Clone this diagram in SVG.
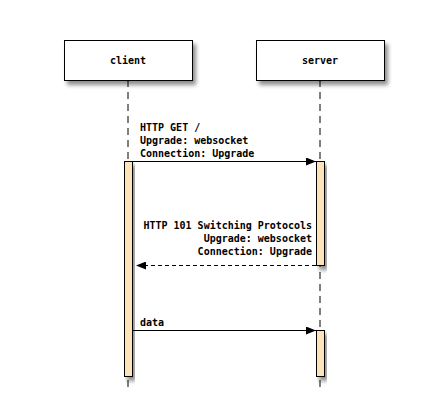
<svg xmlns="http://www.w3.org/2000/svg" width="448" height="404" viewBox="0 0 448 404">
<defs>
<filter id="sh" x="-20%" y="-20%" width="150%" height="160%">
<feGaussianBlur in="SourceAlpha" stdDeviation="2"/>
<feOffset dx="3" dy="4" result="b"/>
<feComponentTransfer><feFuncA type="linear" slope="0.45"/></feComponentTransfer>
<feMerge><feMergeNode/><feMergeNode in="SourceGraphic"/></feMerge>
</filter>
<marker id="ah" viewBox="0 0 10 8" refX="10" refY="4" markerWidth="10" markerHeight="8" markerUnits="userSpaceOnUse" orient="auto">
<path d="M0,0 L10,4 L0,8 Z" fill="#000"/>
</marker>
</defs>
<style>
.box{fill:#fff;stroke:#000;stroke-width:1}
.act{fill:#fde4b8;stroke:#000;stroke-width:1}
.life{stroke:#000;stroke-width:1;stroke-dasharray:7 5;fill:none}
.msg{stroke:#000;stroke-width:1;fill:none}
.ret{stroke-dasharray:4 3}
text{font-family:"DejaVu Sans Mono","Liberation Mono",monospace;font-size:10px;font-weight:bold;fill:#000}
</style>
<rect width="448" height="404" fill="#fff"/>
<g id="lifelines">
<line class="life" x1="128" y1="80" x2="128" y2="388"/>
<line class="life" x1="320" y1="80" x2="320" y2="388"/>
</g>
<g id="client">
<rect class="box" x="64.5" y="40.5" width="128" height="40" filter="url(#sh)"/>
<text x="128" y="63.5" text-anchor="middle">client</text>
</g>
<g id="server">
<rect class="box" x="256.5" y="40.5" width="128" height="40" filter="url(#sh)"/>
<text x="320" y="63.5" text-anchor="middle">server</text>
</g>
<g id="activations">
<rect class="act" x="124.5" y="161.5" width="8" height="215" filter="url(#sh)"/>
<rect class="act" x="316.5" y="161.5" width="8" height="104" filter="url(#sh)"/>
<rect class="act" x="316.5" y="330.5" width="8" height="46" filter="url(#sh)"/>
</g>
<g id="connectors">
<line class="msg" x1="133" y1="161.5" x2="316" y2="161.5" marker-end="url(#ah)"/>
<line class="msg ret" x1="316" y1="265.5" x2="136" y2="265.5" marker-end="url(#ah)"/>
<line class="msg" x1="133" y1="330.5" x2="316" y2="330.5" marker-end="url(#ah)"/>
</g>
<g id="labels">
<text x="140" y="131">HTTP GET /</text>
<text x="140" y="144">Upgrade: websocket</text>
<text x="140" y="157">Connection: Upgrade</text>
<text x="312" y="229" text-anchor="end">HTTP 101 Switching Protocols</text>
<text x="312" y="242" text-anchor="end">Upgrade: websocket</text>
<text x="312" y="255" text-anchor="end">Connection: Upgrade</text>
<text x="140" y="326">data</text>
</g>
</svg>
